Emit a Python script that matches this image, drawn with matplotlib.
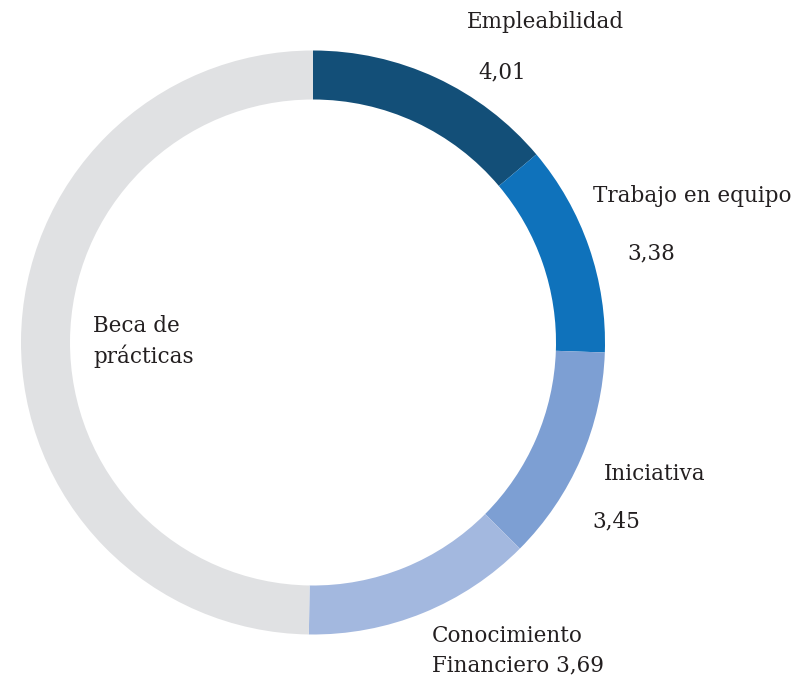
import matplotlib
matplotlib.use("Agg")
import matplotlib.pyplot as plt

categories = ["Empleabilidad", "Trabajo en equipo", "Iniciativa", "Conocimiento Financiero", "Beca de prácticas"]
values = [4.01, 3.38, 3.45, 3.69, 14.4]
value_labels = ["4,01", "3,38", "3,45", "3,69"]
colors = ["#134f78", "#0f72bb", "#7d9fd3", "#a3b8df", "#e0e1e3"]

W, H = 807, 679
fig = plt.figure(figsize=(W / 100, H / 100), dpi=100)
ax = fig.add_axes([0, 0, 1, 1])

cx, cy = 313, H - 342.5
R = 292
ax.pie(values, colors=colors, startangle=90, counterclock=False,
       center=(cx, cy), radius=R, frame=True,
       wedgeprops=dict(width=49, edgecolor="none", linewidth=0))
ax.set_xlim(0, W)
ax.set_ylim(0, H)
ax.set_aspect("equal")
ax.axis("off")

tc = "#231f20"
fs = 15.5
fam = "DejaVu Serif"

def txt(x, y, s):
    ax.text(x, H - y, s, ha="left", va="center", fontsize=fs, color=tc, family=fam)

txt(467, 22, categories[0])
txt(478, 72, value_labels[0])
txt(593, 196, categories[1])
txt(627, 253, value_labels[1])
txt(604, 474, categories[2])
txt(592, 521, value_labels[2])
txt(432, 636, "Conocimiento")
txt(432, 665, "Financiero " + value_labels[3])
txt(93, 326, "Beca de")
txt(93, 356, "prácticas")

fig.savefig("out.png", dpi=100)
